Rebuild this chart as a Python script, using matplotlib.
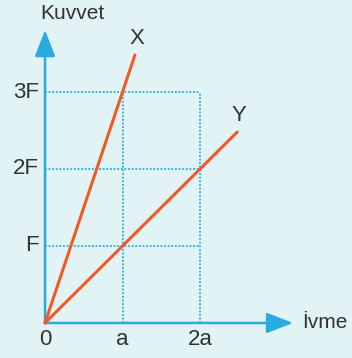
import matplotlib.pyplot as plt

plt.rcParams['font.family'] = ['Liberation Sans', 'DejaVu Sans']

# data
x_ticks = [1, 2]
x_labels = ['a', '2a']
y_ticks = [1, 2, 3]
y_labels = ['F', '2F', '3F']
line_names = ['X', 'Y']
line_x = [[0, 1.16], [0, 2.48]]
line_y = [[0, 3.48], [0, 2.48]]

bg = '#e1f3f4'
blue = '#29abe2'
orange = '#f0582a'
txt = '#333333'
fs = 16

fig = plt.figure(figsize=(3.52, 3.58), dpi=100, facecolor=bg)
ax = fig.add_axes([0, 0, 1, 1])
ax.set_facecolor(bg)
ax.set_xlim(-0.581, 3.961)
ax.set_ylim(-0.455, 4.195)
ax.axis('off')

# dotted guide lines
for yv in y_ticks:
    ax.plot([0, x_ticks[-1]], [yv, yv], color=blue, linestyle=(0, (1, 1)), linewidth=1.3, zorder=1)
for xv in x_ticks:
    ax.plot([xv, xv], [0, y_ticks[-1]], color=blue, linestyle=(0, (1, 1)), linewidth=1.3, zorder=1)

# axes with arrows
arr = dict(arrowstyle='-|>,head_length=0.9,head_width=0.35', color=blue, lw=1.8,
           shrinkA=0, shrinkB=0, mutation_scale=18)
ax.annotate('', xy=(3.2, 0), xytext=(0, 0), arrowprops=arr, zorder=2)
ax.annotate('', xy=(0, 3.805), xytext=(0, 0), arrowprops=arr, zorder=2)

# lines
for name, xs, ys in zip(line_names, line_x, line_y):
    ax.plot(xs, ys, color=orange, linewidth=2.2, solid_capstyle='round', zorder=3)
    ax.text(xs[-1] + 0.02, ys[-1] + 0.22, name, fontsize=fs, color=txt,
            ha='center', va='center')

# tick labels
for xv, lab in zip(x_ticks, x_labels):
    ax.text(xv, -0.21, lab, fontsize=fs, color=txt, ha='center', va='center')
ax.text(0, -0.21, '0', fontsize=fs, color=txt, ha='center', va='center')
for yv, lab in zip(y_ticks, y_labels):
    ax.text(-0.08, yv, lab, fontsize=fs, color=txt, ha='right', va='center')

ax.text(0.35, 4.025, 'Kuvvet', fontsize=15, color=txt, ha='center', va='center')
ax.text(3.32, 0.0, 'İvme', fontsize=15, color=txt, ha='left', va='center')

fig.savefig('out.png', dpi=100, facecolor=bg)
